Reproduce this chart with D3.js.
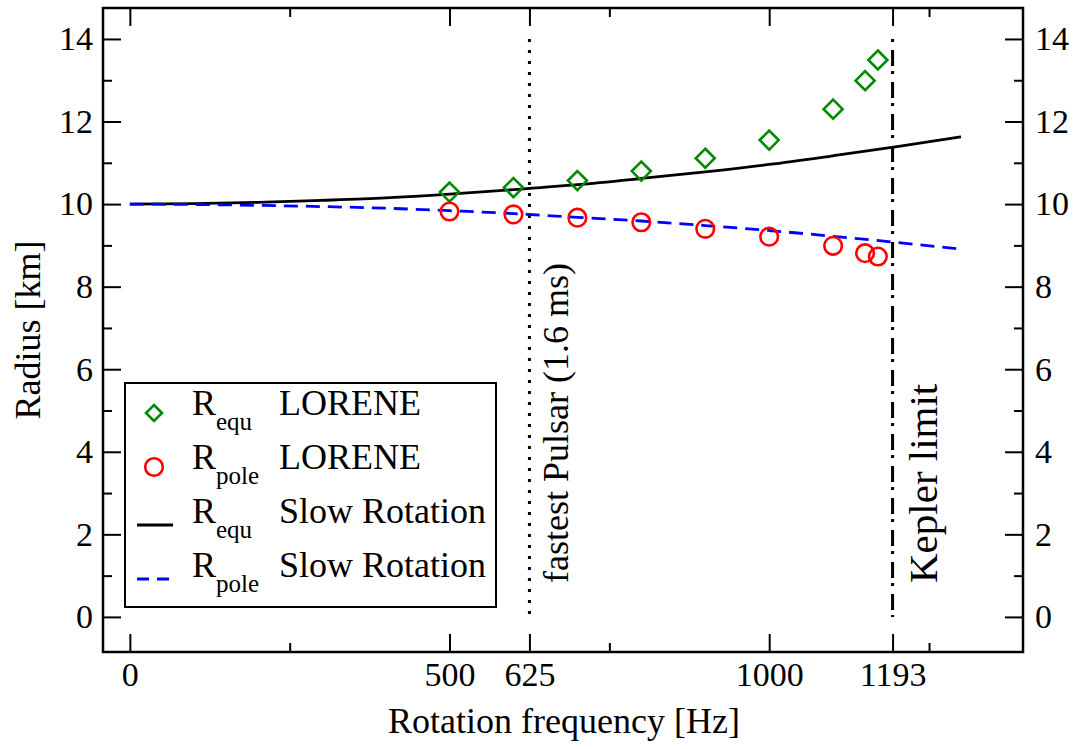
<!DOCTYPE html>
<html>
<head>
<meta charset="utf-8">
<script src="https://cdn.jsdelivr.net/npm/d3@7"></script>
<style>
  html, body { margin: 0; padding: 0; background: #fff; }
  svg text { font-family: "Liberation Serif", "Times New Roman", serif; fill: #000; }
</style>
</head>
<body>
<svg id="chart" width="1075" height="749"></svg>
<script>
// LORENE full numerical results
const freqLorene = [500, 600, 700, 800, 900, 1000, 1100, 1150, 1170];
const rEquLorene = [10.29, 10.40, 10.57, 10.80, 11.11, 11.55, 12.30, 12.99, 13.49];
const rPoleLorene = [9.82, 9.75, 9.67, 9.56, 9.40, 9.21, 8.99, 8.81, 8.73];

// Slow-rotation approximation
const freqSlow = [0, 100, 200, 300, 400, 500, 600, 700, 800, 900, 1000, 1100, 1200, 1300];
const rEquSlow = [10.00, 10.01, 10.04, 10.09, 10.15, 10.24, 10.35, 10.47, 10.62, 10.78, 10.96, 11.17, 11.39, 11.63];
const rPoleSlow = [10.00, 9.99, 9.97, 9.94, 9.90, 9.84, 9.77, 9.68, 9.59, 9.48, 9.36, 9.22, 9.07, 8.91];

// Reference frequencies
const fastestPulsar = 625;
const keplerLimit = 1193;

// Axis ticks
const xMajorTicks = [0, 500, 625, 1000, 1193];
const xMinorTicks = [250, 750, 1250];
const yMajorTicks = [0, 2, 4, 6, 8, 10, 12, 14];
const yMinorTicks = [1, 3, 5, 7, 9, 11, 13];

const svg = d3.select("#chart");
const L = 103, R = 1023, T = 8, B = 652;

const x = d3.scaleLinear().domain([-42, 1397]).range([L, R]);
const y = d3.scaleLinear().domain([-0.85, 14.75]).range([B, T]);

const majorLen = 18, minorLen = 9;
const tickFont = 34;

// Axes: ticks point inward on all four sides
function addAxis(axisGen, transform) {
  const g = svg.append("g").attr("transform", transform).call(axisGen);
  g.select(".domain").remove();
  g.selectAll(".tick line").attr("stroke", "#000").attr("stroke-width", 2);
  g.selectAll(".tick text").style("font-size", tickFont + "px");
  return g;
}

const fmt = d => String(d);

// bottom
addAxis(d3.axisBottom(x).tickValues(xMajorTicks).tickSize(-majorLen).tickPadding(10).tickFormat(fmt), `translate(0,${B})`);
addAxis(d3.axisBottom(x).tickValues(xMinorTicks).tickSize(-minorLen).tickFormat(""), `translate(0,${B})`);
// top
addAxis(d3.axisTop(x).tickValues(xMajorTicks).tickSize(-majorLen).tickFormat(""), `translate(0,${T})`);
addAxis(d3.axisTop(x).tickValues(xMinorTicks).tickSize(-minorLen).tickFormat(""), `translate(0,${T})`);
// left
addAxis(d3.axisLeft(y).tickValues(yMajorTicks).tickSize(-majorLen).tickPadding(10).tickFormat(fmt), `translate(${L},0)`);
addAxis(d3.axisLeft(y).tickValues(yMinorTicks).tickSize(-minorLen).tickFormat(""), `translate(${L},0)`);
// right
addAxis(d3.axisRight(y).tickValues(yMajorTicks).tickSize(-majorLen).tickPadding(12).tickFormat(fmt), `translate(${R},0)`);
addAxis(d3.axisRight(y).tickValues(yMinorTicks).tickSize(-minorLen).tickFormat(""), `translate(${R},0)`);

// Frame
svg.append("rect")
  .attr("x", L).attr("y", T).attr("width", R - L).attr("height", B - T)
  .attr("fill", "none").attr("stroke", "#000").attr("stroke-width", 2.5);

// Reference vertical lines
svg.append("line")
  .attr("x1", x(fastestPulsar)).attr("x2", x(fastestPulsar))
  .attr("y1", y(14)).attr("y2", y(0))
  .attr("stroke", "#000").attr("stroke-width", 3).attr("stroke-dasharray", "3,8");
svg.append("line")
  .attr("x1", x(keplerLimit)).attr("x2", x(keplerLimit))
  .attr("y1", y(14)).attr("y2", y(0))
  .attr("stroke", "#000").attr("stroke-width", 3).attr("stroke-dasharray", "3,8,16,5");

svg.append("text")
  .attr("transform", `translate(${x(fastestPulsar) + 39},583) rotate(-90)`)
  .style("font-size", "36px")
  .text("fastest Pulsar (1.6 ms)");
svg.append("text")
  .attr("transform", `translate(${x(keplerLimit) + 44},583) rotate(-90)`)
  .style("font-size", "41px")
  .text("Kepler limit");

// Slow rotation curves
const lineGen = d3.line().x(d => x(d[0])).y(d => y(d[1])).curve(d3.curveMonotoneX);
svg.append("path")
  .attr("d", lineGen(freqSlow.map((f, i) => [f, rEquSlow[i]])))
  .attr("fill", "none").attr("stroke", "#000").attr("stroke-width", 2.8);
svg.append("path")
  .attr("d", lineGen(freqSlow.map((f, i) => [f, rPoleSlow[i]])))
  .attr("fill", "none").attr("stroke", "#0000ff").attr("stroke-width", 2.8)
  .attr("stroke-dasharray", "14,8");

// LORENE markers
const diamond = (cx, cy, s) => `M${cx},${cy - s}L${cx + s},${cy}L${cx},${cy + s}L${cx - s},${cy}Z`;
svg.append("g").selectAll("path")
  .data(freqLorene.map((f, i) => [f, rEquLorene[i]]))
  .join("path")
  .attr("d", d => diamond(x(d[0]), y(d[1]), 9.5))
  .attr("fill", "none").attr("stroke", "#008b00").attr("stroke-width", 2.6);
svg.append("g").selectAll("circle")
  .data(freqLorene.map((f, i) => [f, rPoleLorene[i]]))
  .join("circle")
  .attr("cx", d => x(d[0])).attr("cy", d => y(d[1])).attr("r", 8.8)
  .attr("fill", "none").attr("stroke", "#ff0000").attr("stroke-width", 2.6);

// Axis titles
svg.append("text")
  .attr("x", 564).attr("y", 733)
  .attr("text-anchor", "middle").style("font-size", "36px")
  .text("Rotation frequency [Hz]");
svg.append("text")
  .attr("transform", `translate(40,${(T + B) / 2}) rotate(-90)`)
  .attr("text-anchor", "middle").style("font-size", "36px")
  .text("Radius [km]");

// Legend
const legend = svg.append("g");
legend.append("rect")
  .attr("x", 125).attr("y", 383).attr("width", 371).attr("height", 224)
  .attr("fill", "#fff").attr("stroke", "#000").attr("stroke-width", 2);

const legendRows = [
  { sub: "equ", label: "LORENE", kind: "diamond" },
  { sub: "pole", label: "LORENE", kind: "circle" },
  { sub: "equ", label: "Slow Rotation", kind: "solid" },
  { sub: "pole", label: "Slow Rotation", kind: "dashed" }
];
legendRows.forEach((row, i) => {
  const base = 415 + i * 54;
  const my = base - 2;
  if (row.kind === "diamond") {
    legend.append("path").attr("d", diamond(154, my, 8))
      .attr("fill", "none").attr("stroke", "#008b00").attr("stroke-width", 2.6);
  } else if (row.kind === "circle") {
    legend.append("circle").attr("cx", 154).attr("cy", my).attr("r", 8.8)
      .attr("fill", "none").attr("stroke", "#ff0000").attr("stroke-width", 2.6);
  } else {
    legend.append("line").attr("x1", 137).attr("x2", 173).attr("y1", my + 4).attr("y2", my + 4)
      .attr("stroke", row.kind === "solid" ? "#000" : "#0000ff").attr("stroke-width", 2.8)
      .attr("stroke-dasharray", row.kind === "dashed" ? "12,8" : null);
  }
  const t = legend.append("text").attr("x", 192).attr("y", base).style("font-size", "36px");
  t.append("tspan").text("R");
  t.append("tspan").attr("dy", 15).style("font-size", "25px").text(row.sub);
  legend.append("text").attr("x", 279).attr("y", base).style("font-size", "36px").text(row.label);
});
</script>
</body>
</html>
